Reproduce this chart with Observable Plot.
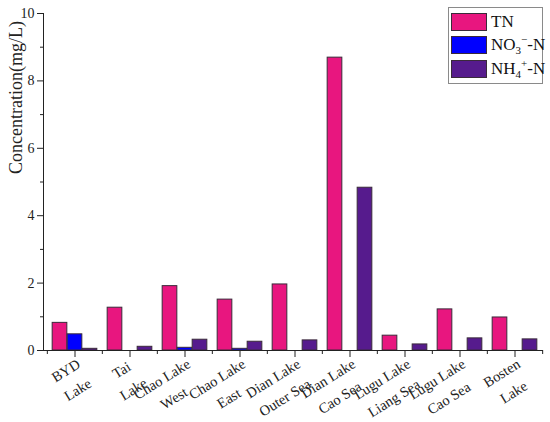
<!DOCTYPE html>
<html><head><meta charset="utf-8">
<script src="https://cdn.jsdelivr.net/npm/d3@7"></script>
<script src="https://cdn.jsdelivr.net/npm/@observablehq/plot@0.6"></script>
<style>
body{margin:0;background:#fff;}
#wrap{position:relative;width:550px;height:422px;font-family:"Liberation Serif","Times New Roman",serif;}
#legend{position:absolute;left:448px;top:7px;width:95px;border:1px solid #8a8a8a;background:#fff;padding:2px 0 2px 2px;box-sizing:border-box;}
.row{display:flex;align-items:center;height:23.5px;font-size:17px;color:#111;white-space:nowrap;}
.sw{width:36px;height:18px;border:1px solid #3a2a3a;box-sizing:border-box;margin-right:4px;flex:none;}
sub,sup{font-size:11px;line-height:0;}
</style></head><body><div id="wrap"></div>
<script>
const groups = ["BYD\nLake","Tai\nLake","Chao Lake\nWest","Chao Lake\nEast","Dian Lake\nOuter Sea","Dian Lake\nCao Sea","Lugu Lake\nLiang Sea","Lugu Lake\nCao Sea","Bosten\nLake"];
const tn  = [0.82, 1.27, 1.91, 1.51, 1.96, 8.69, 0.44, 1.22, 0.98];
const no3 = [0.48, 0,    0.08, 0.05, 0,    0,    0,    0,    0];
const nh4 = [0.05, 0.11, 0.32, 0.26, 0.30, 4.83, 0.18, 0.36, 0.33];
const seriesKeys = ["TN", "NO3", "NH4"];
const seriesLabels = ["TN", "NO<sub>3</sub><sup>\u2212</sup>-N", "NH<sub>4</sub><sup>+</sup>-N"];
const seriesColors = ["#E8167F", "#0000FF", "#561B8D"];
const yTicks = [0, 2, 4, 6, 8, 10];
const yMinorTicks = [1, 3, 5, 7, 9];
const yTitle = "Concentration(mg/L)";

const valuesBySeries = {TN: tn, NO3: no3, NH4: nh4};
const long = [];
seriesKeys.forEach((s, si) => groups.forEach((g, gi) => {
  const v = valuesBySeries[s][gi];
  if (v > 0) long.push({group: g, series: s, value: v});
}));

const W = 550, H = 422, mL = 43, mR = 7, mT = 13, mB = 72;
const xRange = [45, 543];
const band = (xRange[1] - xRange[0]) / groups.length;
const barW = 15;
const edge = band / 2 - 1.5 * barW;
const color = {domain: seriesKeys, range: seriesColors};
const FONT = "Liberation Serif, Times New Roman, serif";

const bars = seriesKeys.map((s, si) => Plot.barY(long.filter(d => d.series === s), {
  x: "group", y: "value", fill: "series",
  stroke: "#3a2a3a", strokeWidth: 1,
  insetLeft: edge + si * barW, insetRight: band - edge - (si + 1) * barW
}));

// tick labels: rotated two-line blocks, lines centred, block end hung at the tick
const LFS = 14.5;
const ctx = document.createElement("canvas").getContext("2d");
ctx.font = `${LFS}px 'Liberation Serif'`;
const ang = 32 * Math.PI / 180;
const labelMarks = groups.map(g => {
  const w = Math.max(...g.split("\n").map(t => ctx.measureText(t).width));
  return Plot.text([g], {x: d => d, text: d => d, frameAnchor: "bottom", rotate: -32,
    dx: 8.5 - (w / 2) * Math.cos(ang), dy: 19.5 + (w / 2) * Math.sin(ang),
    fontSize: LFS, lineHeight: 1.55, textAnchor: "middle", lineAnchor: "middle", fill: "#222"});
});

const chart = Plot.plot({
  width: W, height: H,
  marginLeft: mL, marginRight: mR, marginTop: mT, marginBottom: mB,
  style: {fontFamily: FONT, background: "#fff", color: "#222"},
  x: {domain: groups, range: xRange, padding: 0, axis: null},
  y: {domain: [0, 10], axis: null},
  color,
  marks: [
    ...bars,
    Plot.frame({anchor: "left", stroke: "#222"}),
    Plot.ruleY([0], {stroke: "#222"}),
    Plot.axisY(yTicks, {tickSize: 6, tickPadding: 3, fontSize: 14, label: null, stroke: "#222"}),
    Plot.axisY(yMinorTicks, {tickSize: 3, text: null, label: null, stroke: "#222"}),
    Plot.axisX({tickSize: 7, text: null, label: null, stroke: "#222"}),
    Plot.axisX({tickSize: 4, text: null, label: null, dx: -band / 2, stroke: "#222"}),
    Plot.axisX(groups.slice(-1), {tickSize: 4, text: null, label: null, dx: band / 2, stroke: "#222"}),
    ...labelMarks,
    Plot.text([yTitle], {text: d => d, frameAnchor: "left", rotate: -90, dx: -27, dy: -8, fontSize: 18, fill: "#222"})
  ]
});
const wrap = document.getElementById("wrap");
wrap.appendChild(chart);

const legend = document.createElement("div");
legend.id = "legend";
seriesKeys.forEach((s, i) => {
  const row = document.createElement("div");
  row.className = "row";
  row.innerHTML = `<span class="sw" style="background:${seriesColors[i]}"></span><span>${seriesLabels[i]}</span>`;
  legend.appendChild(row);
});
wrap.appendChild(legend);
</script></body></html>
